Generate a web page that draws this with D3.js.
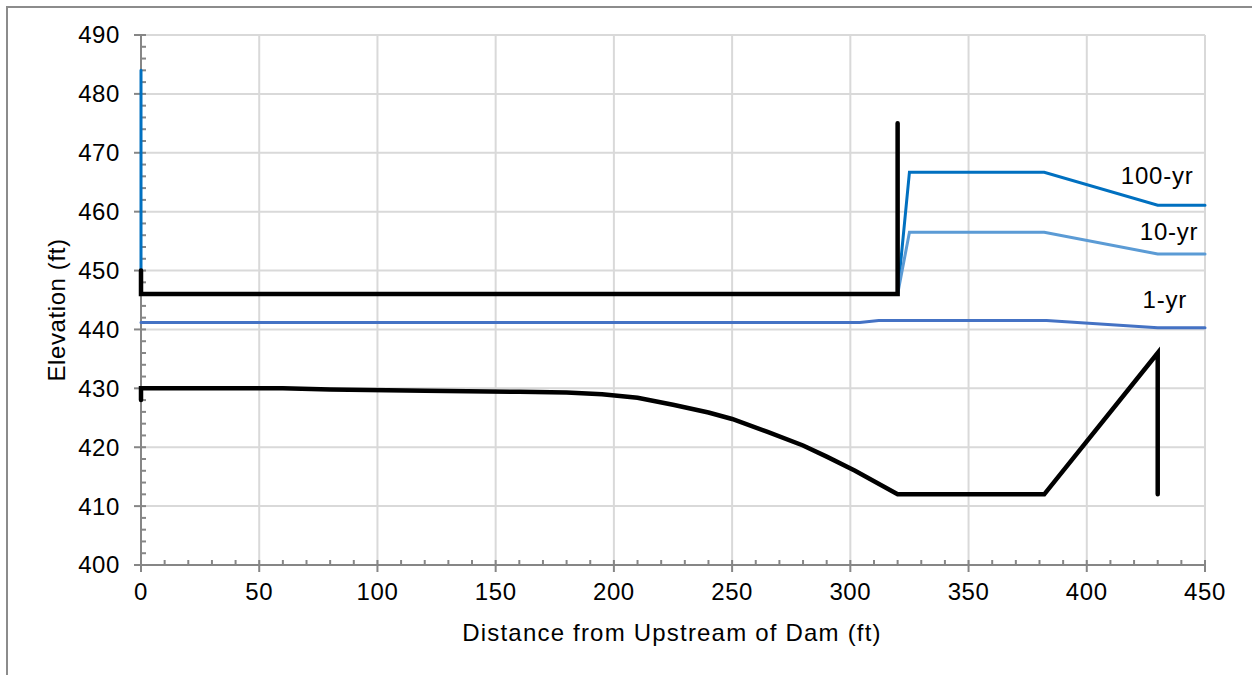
<!DOCTYPE html>
<html>
<head>
<meta charset="utf-8">
<script src="https://cdn.jsdelivr.net/npm/d3@7"></script>
<style>
  html, body { margin: 0; padding: 0; background: #fff; }
  svg { display: block; font-family: "Liberation Sans", Arial, sans-serif; }
</style>
</head>
<body>
<svg id="chart" width="1252" height="675"></svg>
<script>
// Axis ranges and tick labels
const xTicks = [0, 50, 100, 150, 200, 250, 300, 350, 400, 450];
const yTicks = [400, 410, 420, 430, 440, 450, 460, 470, 480, 490];
const xMinorStep = 10;
const yMinorStep = 2;

// Dam crest / spillway wall profile (distance ft, elevation ft)
const damCrestX = [0, 0, 320, 320];
const damCrestY = [450, 446, 446, 475];

// Ground / channel profile
const groundX = [0, 0, 60, 80, 120, 160, 180, 195, 210, 225, 240, 250, 265, 280, 290, 302, 320, 382, 430, 430];
const groundY = [428, 430, 430, 429.8, 429.6, 429.4, 429.3, 429.0, 428.4, 427.2, 425.9, 424.8, 422.6, 420.3, 418.4, 416.0, 412, 412, 436, 412];

// Water surface profiles (null marks a break in the line)
const yr100X = [0, 0, null, 320, 325, 382, 430, 450];
const yr100Y = [484, 446, null, 446, 466.7, 466.7, 461.1, 461.1];

const yr10X = [320, 325, 382, 430, 450];
const yr10Y = [446, 456.5, 456.5, 452.8, 452.8];

const yr1X = [0, 304, 312, 383, 430, 450];
const yr1Y = [441.2, 441.2, 441.5, 441.5, 440.3, 440.3];

// Series labels: text, anchor distance, anchor elevation (baseline)
const labelText = ["100-yr", "10-yr", "1-yr"];
const labelX = [414.4, 422.4, 423.6];
const labelY = [464.7, 455.2, 443.6];

const svg = d3.select("#chart");
const W = 1252, H = 675;
const m = { left: 141, right: 1205, top: 35, bottom: 565 };

const x = d3.scaleLinear().domain([0, 450]).range([m.left, m.right]);
const y = d3.scaleLinear().domain([400, 490]).range([m.bottom, m.top]);

// Outer frame (top and left edges visible)
svg.append("path")
  .attr("d", `M7,${H + 5} L7,7 L${W + 5},7`)
  .attr("fill", "none")
  .attr("stroke", "#8c8c8c")
  .attr("stroke-width", 2);

// Gridlines
const grid = svg.append("g");
grid.selectAll("line.gy").data(yTicks.filter(v => v > 400)).join("line")
  .attr("x1", m.left).attr("x2", m.right)
  .attr("y1", d => y(d)).attr("y2", d => y(d))
  .attr("stroke", "#d9d9d9").attr("stroke-width", 2);
grid.selectAll("line.gx").data(xTicks.filter(v => v > 0)).join("line")
  .attr("y1", m.top).attr("y2", m.bottom)
  .attr("x1", d => x(d)).attr("x2", d => x(d))
  .attr("stroke", "#d9d9d9").attr("stroke-width", 2);

// Axes
const axisColor = "#868686";
const ax = svg.append("g");
ax.append("line")
  .attr("x1", m.left).attr("x2", m.left)
  .attr("y1", m.top).attr("y2", m.bottom)
  .attr("stroke", axisColor).attr("stroke-width", 2);
ax.append("line")
  .attr("x1", m.left).attr("x2", m.right)
  .attr("y1", m.bottom).attr("y2", m.bottom)
  .attr("stroke", axisColor).attr("stroke-width", 2);

const yMinor = d3.range(400, 490 + 0.001, yMinorStep).filter(v => v % 10 !== 0);
const xMinor = d3.range(0, 450 + 0.001, xMinorStep).filter(v => v % 50 !== 0);

ax.selectAll("line.ymaj").data(yTicks).join("line")
  .attr("x1", m.left - 7).attr("x2", m.left + 5)
  .attr("y1", d => y(d)).attr("y2", d => y(d))
  .attr("stroke", axisColor).attr("stroke-width", 2);
ax.selectAll("line.ymin").data(yMinor).join("line")
  .attr("x1", m.left).attr("x2", m.left + 5)
  .attr("y1", d => y(d)).attr("y2", d => y(d))
  .attr("stroke", axisColor).attr("stroke-width", 2);
ax.selectAll("line.xmaj").data(xTicks).join("line")
  .attr("y1", m.bottom - 5).attr("y2", m.bottom + 7)
  .attr("x1", d => x(d)).attr("x2", d => x(d))
  .attr("stroke", axisColor).attr("stroke-width", 2);
ax.selectAll("line.xmin").data(xMinor).join("line")
  .attr("y1", m.bottom - 5).attr("y2", m.bottom)
  .attr("x1", d => x(d)).attr("x2", d => x(d))
  .attr("stroke", axisColor).attr("stroke-width", 2);

// Series (drawn over the axes)
const toPts = (xs, ys) => xs.map((v, i) => v === null ? null : [v, ys[i]]);
const line = d3.line()
  .defined(d => d !== null)
  .x(d => x(d[0])).y(d => y(d[1]));

const drawSeries = (pts, color, width) =>
  svg.append("path")
    .attr("d", line(pts))
    .attr("fill", "none")
    .attr("stroke", color)
    .attr("stroke-width", width)
    .attr("stroke-linejoin", "miter")
    .attr("stroke-linecap", "round");

drawSeries(toPts(yr100X, yr100Y), "#0070C0", 3);
drawSeries(toPts(yr10X, yr10Y), "#5B9BD5", 3);
drawSeries(toPts(yr1X, yr1Y), "#4472C4", 3);
drawSeries(toPts(damCrestX, damCrestY), "#000000", 4.5);
drawSeries(toPts(groundX, groundY), "#000000", 4.5);

// Tick labels
const fs = 24;
const ls = "0.6px";
ax.selectAll("text.yl").data(yTicks).join("text")
  .attr("x", 120).attr("y", d => y(d))
  .attr("dy", "0.35em")
  .attr("text-anchor", "end")
  .attr("font-size", fs).attr("letter-spacing", ls).attr("fill", "#000")
  .text(d => d);
ax.selectAll("text.xl").data(xTicks).join("text")
  .attr("x", d => x(d)).attr("y", 600)
  .attr("text-anchor", "middle")
  .attr("font-size", fs).attr("letter-spacing", ls).attr("fill", "#000")
  .text(d => d);

// Axis titles
svg.append("text")
  .attr("x", (m.left + m.right) / 2 - 1).attr("y", 641)
  .attr("text-anchor", "middle")
  .attr("font-size", fs).attr("letter-spacing", "1.2px").attr("fill", "#000")
  .text("Distance from Upstream of Dam (ft)");
svg.append("text")
  .attr("transform", `translate(65,${310}) rotate(-90)`)
  .attr("text-anchor", "middle")
  .attr("font-size", fs).attr("letter-spacing", "0.6px").attr("fill", "#000")
  .text("Elevation (ft)");

// Series labels
svg.selectAll("text.lab").data(labelText).join("text")
  .attr("x", (d, i) => x(labelX[i]))
  .attr("y", (d, i) => y(labelY[i]))
  .attr("font-size", fs).attr("letter-spacing", "0.8px").attr("fill", "#000")
  .text(d => d);
</script>
</body>
</html>
